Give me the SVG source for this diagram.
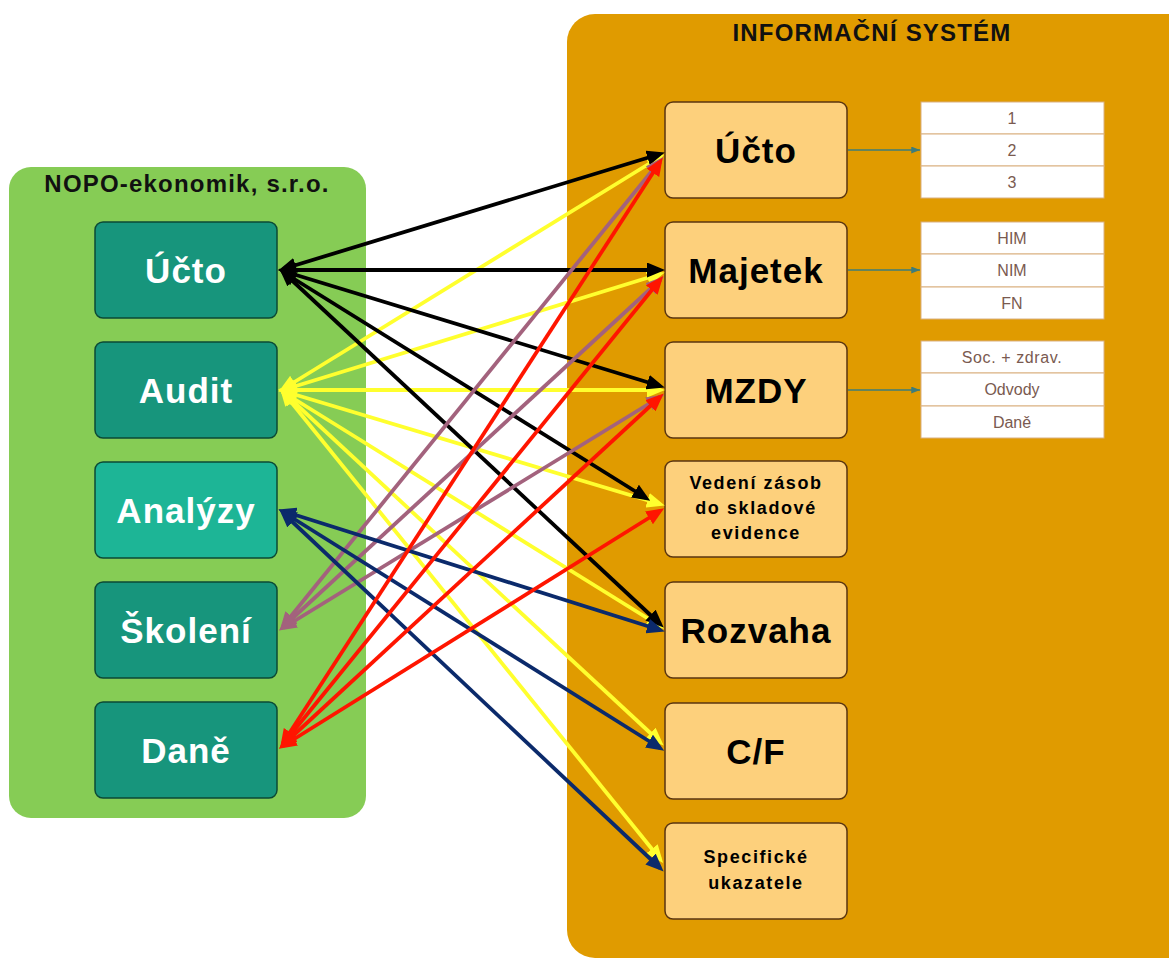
<svg xmlns="http://www.w3.org/2000/svg" width="1169" height="959" viewBox="0 0 1169 959">
<style>
.big{font-family:"Liberation Sans",Arial,sans-serif;font-weight:bold;font-size:35px;letter-spacing:1px;text-anchor:middle}
.wt{fill:#ffffff}
.bk{fill:#000000}
.sm{font-family:"Liberation Sans",Arial,sans-serif;font-weight:bold;font-size:18px;letter-spacing:1.6px;text-anchor:middle;fill:#000}
.ttl{font-family:"Liberation Sans",Arial,sans-serif;font-weight:bold;font-size:24px;letter-spacing:1.2px;text-anchor:middle;fill:#111}
.tb{font-family:"Liberation Sans",Arial,sans-serif;font-size:16px;text-anchor:middle;fill:#7a5a50}
.lnode{fill:#17957C;stroke:#0B4A35;stroke-width:1.5}
.rnode{fill:#FDD07C;stroke:#5A3510;stroke-width:1.5}
.cell{fill:#ffffff;stroke:#D9B080;stroke-width:1}
.c{fill:none;stroke-width:3.8}
.sub{fill:none;stroke:#3C7C7A;stroke-width:1.6}
</style>
<defs>
<marker id="mk" viewBox="0 0 18 15" refX="13" refY="7.5" markerWidth="18" markerHeight="15" markerUnits="userSpaceOnUse" orient="auto-start-reverse"><path d="M0,0 L18,7.5 L0,15 z" fill="#000"/></marker>
<marker id="my" viewBox="0 0 18 15" refX="13" refY="7.5" markerWidth="18" markerHeight="15" markerUnits="userSpaceOnUse" orient="auto-start-reverse"><path d="M0,0 L18,7.5 L0,15 z" fill="#FFFF2E"/></marker>
<marker id="mp" viewBox="0 0 18 15" refX="13" refY="7.5" markerWidth="18" markerHeight="15" markerUnits="userSpaceOnUse" orient="auto-start-reverse"><path d="M0,0 L18,7.5 L0,15 z" fill="#A3627D"/></marker>
<marker id="mr" viewBox="0 0 18 15" refX="13" refY="7.5" markerWidth="18" markerHeight="15" markerUnits="userSpaceOnUse" orient="auto-start-reverse"><path d="M0,0 L18,7.5 L0,15 z" fill="#FF1500"/></marker>
<marker id="mn" viewBox="0 0 18 15" refX="13" refY="7.5" markerWidth="18" markerHeight="15" markerUnits="userSpaceOnUse" orient="auto-start-reverse"><path d="M0,0 L18,7.5 L0,15 z" fill="#0B2A6B"/></marker>
<marker id="mt" viewBox="0 0 10 8" refX="10" refY="4" markerWidth="9" markerHeight="7" markerUnits="userSpaceOnUse" orient="auto"><path d="M0,0 L10,4 L0,8 z" fill="#3C7C7A"/></marker>
</defs>
<rect width="1169" height="959" fill="#ffffff"/>

<g id="container-left">
<rect x="9" y="167" width="357" height="651" rx="22" fill="#86CC55"/>
<text class="ttl" x="187" y="192">NOPO-ekonomik, s.r.o.</text>
</g>
<g id="container-right">
<rect x="567" y="14" width="640" height="944" rx="28" fill="#E09B00"/>
<text class="ttl" x="872" y="41">INFORMAČNÍ SYSTÉM</text>
</g>

<g id="l-ucto"><rect class="lnode" x="95" y="222" width="182" height="96" rx="8"/><text class="big wt" x="186" y="283">Účto</text></g>
<g id="l-audit"><rect class="lnode" x="95" y="342" width="182" height="96" rx="8"/><text class="big wt" x="186" y="403">Audit</text></g>
<g id="l-analyzy"><rect class="lnode" x="95" y="462" width="182" height="96" rx="8" style="fill:#1DB596"/><text class="big wt" x="186" y="523">Analýzy</text></g>
<g id="l-skoleni"><rect class="lnode" x="95" y="582" width="182" height="96" rx="8"/><text class="big wt" x="186" y="643">Školení</text></g>
<g id="l-dane"><rect class="lnode" x="95" y="702" width="182" height="96" rx="8"/><text class="big wt" x="186" y="763">Daně</text></g>

<g id="r-ucto"><rect class="rnode" x="665" y="102" width="182" height="96" rx="8"/><text class="big bk" x="756" y="163">Účto</text></g>
<g id="r-majetek"><rect class="rnode" x="665" y="222" width="182" height="96" rx="8"/><text class="big bk" x="756" y="283">Majetek</text></g>
<g id="r-mzdy"><rect class="rnode" x="665" y="342" width="182" height="96" rx="8"/><text class="big bk" x="756" y="403">MZDY</text></g>
<g id="r-vedeni"><rect class="rnode" x="665" y="461" width="182" height="96" rx="8"/>
<text class="sm" x="756" y="489">Vedení zásob</text><text class="sm" x="756" y="514">do skladové</text><text class="sm" x="756" y="539">evidence</text></g>
<g id="r-rozvaha"><rect class="rnode" x="665" y="582" width="182" height="96" rx="8"/><text class="big bk" x="756" y="643">Rozvaha</text></g>
<g id="r-cf"><rect class="rnode" x="665" y="703" width="182" height="96" rx="8"/><text class="big bk" x="756" y="764">C/F</text></g>
<g id="r-spec"><rect class="rnode" x="665" y="823" width="182" height="96" rx="8"/>
<text class="sm" x="756" y="863">Specifické</text><text class="sm" x="756" y="889">ukazatele</text></g>

<g id="t-ucto">
<rect class="cell" x="921" y="102" width="183" height="32"/><rect class="cell" x="921" y="134" width="183" height="32"/><rect class="cell" x="921" y="166" width="183" height="32"/>
<text class="tb" x="1012" y="124">1</text><text class="tb" x="1012" y="156">2</text><text class="tb" x="1012" y="188">3</text>
</g>
<g id="t-majetek">
<rect class="cell" x="921" y="222" width="183" height="32"/><rect class="cell" x="921" y="254" width="183" height="33"/><rect class="cell" x="921" y="287" width="183" height="32"/>
<text class="tb" x="1012" y="244">HIM</text><text class="tb" x="1012" y="276">NIM</text><text class="tb" x="1012" y="309">FN</text>
</g>
<g id="t-mzdy">
<rect class="cell" x="921" y="341" width="183" height="32"/><rect class="cell" x="921" y="373" width="183" height="33"/><rect class="cell" x="921" y="406" width="183" height="32"/>
<text class="tb" x="1012" y="363" style="letter-spacing:0.6px">Soc. + zdrav.</text><text class="tb" x="1012" y="395">Odvody</text><text class="tb" x="1012" y="428">Daně</text>
</g>

<g id="connectors">
<path class="sub" d="M848,150 H920" marker-end="url(#mt)"/>
<path class="sub" d="M848,270 H920" marker-end="url(#mt)"/>
<path class="sub" d="M848,390 H920" marker-end="url(#mt)"/>

<g stroke="#FFFF2E" marker-start="url(#my)" marker-end="url(#my)">
<path class="c" d="M283,389 L660,157"/>
<path class="c" d="M283,390 L660,274"/>
<path class="c" d="M283,390 L660,390"/>
<path class="c" d="M283,391 L660,504"/>
<path class="c" d="M283,392 L660,626"/>
<path class="c" d="M283,392 L660,742"/>
<path class="c" d="M283,392 L660,859"/>
</g>
<g stroke="#000" marker-start="url(#mk)" marker-end="url(#mk)">
<path class="c" d="M283,269 L660,154"/>
<path class="c" d="M283,270 L660,270"/>
<path class="c" d="M283,271 L660,386"/>
<path class="c" d="M283,272 L646,498"/>
<path class="c" d="M283,272 L660,624"/>
</g>
<g stroke="#A3627D" marker-start="url(#mp)" marker-end="url(#mp)">
<path class="c" d="M283,626 L660,161"/>
<path class="c" d="M283,627 L660,280"/>
<path class="c" d="M283,628 L660,397"/>
</g>
<g stroke="#0B2A6B" marker-start="url(#mn)" marker-end="url(#mn)">
<path class="c" d="M283,511 L660,630"/>
<path class="c" d="M283,512 L660,748"/>
<path class="c" d="M283,513 L660,868"/>
</g>
<g stroke="#FF1500" marker-start="url(#mr)" marker-end="url(#mr)">
<path class="c" d="M283,743 L660,162"/>
<path class="c" d="M283,744 L660,280"/>
<path class="c" d="M283,745 L660,397"/>
<path class="c" d="M283,746 L660,511"/>
</g>
</g>
</svg>
